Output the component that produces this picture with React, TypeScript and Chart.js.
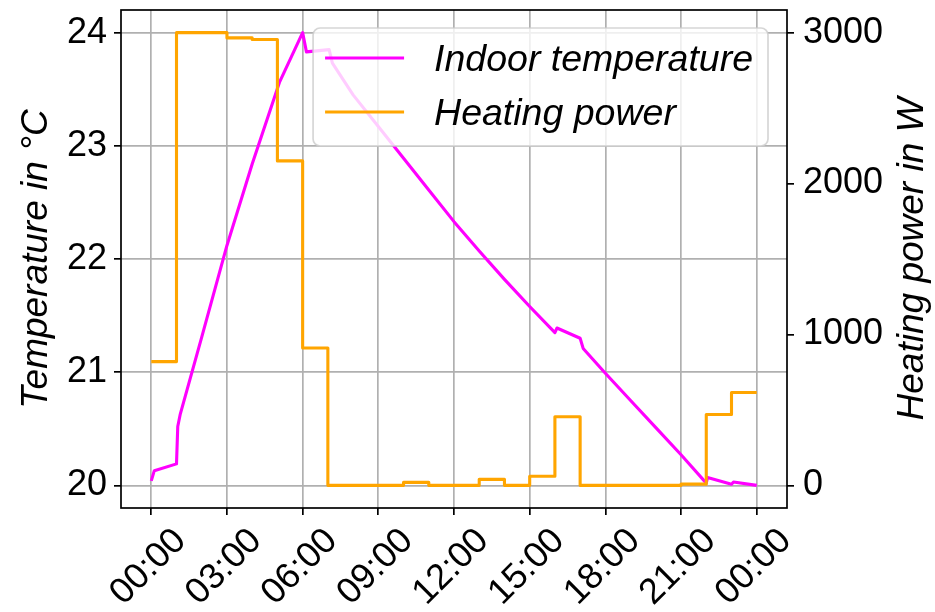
import React, { useEffect, useRef } from 'react';
import { Chart, registerables } from 'chart.js';

Chart.register(...registerables);

// ---- data ----
const tempHours = [
  0.0, 0.12, 1.0, 1.05, 1.15, 2.0, 3.0, 4.0, 5.08, 6.0, 6.15, 7.05, 7.18,
  8, 9, 10, 11, 12, 13, 14, 15, 16.0, 16.08, 17.0, 17.12, 18, 19, 20, 21,
  22.0, 22.05, 23.0, 23.08, 24.0,
];
const tempValues = [
  20.04, 20.13, 20.19, 20.52, 20.63, 21.31, 22.12, 22.84, 23.56, 24.0, 23.83, 23.85, 23.73,
  23.45, 23.17, 22.89, 22.61, 22.33, 22.07, 21.82, 21.58, 21.35, 21.39, 21.3, 21.21, 20.99, 20.75, 20.51, 20.27,
  20.02, 20.07, 20.01, 20.03, 20.0,
];
const powerHours = [0, 1, 2, 3, 4, 5, 6, 7, 8, 9, 10, 11, 12, 13, 14, 15, 16, 17, 18, 19, 20, 21, 22, 23, 24];
const powerValues = [
  820, 3000, 3000, 2965, 2955, 2150, 910, 0, 0, 0, 20, 0, 0, 40, 0, 60, 455, 0, 0, 0, 0, 8, 470, 615, 615,
];
const xTickHours = [0, 3, 6, 9, 12, 15, 18, 21, 24];
const xTickLabels = ['00:00', '03:00', '06:00', '09:00', '12:00', '15:00', '18:00', '21:00', '00:00'];
const tempTicks = [20, 21, 22, 23, 24];
const powerTicks = [0, 1000, 2000, 3000];
const seriesNames = ['Indoor temperature', 'Heating power'];
const seriesColors = ['#ff00ff', '#ffa500'];
const axisTitles = ['Temperature in °C', 'Heating power in W'];

const FONT = '"Liberation Sans", Arial, Helvetica, sans-serif';
const TICK_SIZE = 36;
const TITLE_SIZE = 37;
const LEGEND_SIZE = 37.5;
const GRID = '#b0b0b0';

const zeroPad = (s: any) => {
  s.paddingTop = 0;
  s.paddingBottom = 0;
  s.paddingLeft = 0;
  s.paddingRight = 0;
};

const decorPlugin = {
  id: 'decor',
  afterDatasetsDraw(chart: any) {
    const { ctx, chartArea: ca } = chart;
    ctx.save();
    // frame (spines)
    ctx.strokeStyle = '#000';
    ctx.lineWidth = 1.7;
    ctx.strokeRect(ca.left, ca.top, ca.right - ca.left, ca.bottom - ca.top);

    // legend
    const fs = LEGEND_SIZE;
    ctx.font = `italic ${fs}px ${FONT}`;
    const tw = Math.max(...seriesNames.map((n) => ctx.measureText(n).width));
    const padL = 12, handle = 79, gap = 30, padR = 15;
    const w = padL + handle + gap + tw + padR;
    const h = 118;
    const x0 = ca.right - 19 - w;
    const y0 = ca.top + 18;
    const r = 7;
    ctx.beginPath();
    ctx.moveTo(x0 + r, y0);
    ctx.lineTo(x0 + w - r, y0);
    ctx.arcTo(x0 + w, y0, x0 + w, y0 + r, r);
    ctx.lineTo(x0 + w, y0 + h - r);
    ctx.arcTo(x0 + w, y0 + h, x0 + w - r, y0 + h, r);
    ctx.lineTo(x0 + r, y0 + h);
    ctx.arcTo(x0, y0 + h, x0, y0 + h - r, r);
    ctx.lineTo(x0, y0 + r);
    ctx.arcTo(x0, y0, x0 + r, y0, r);
    ctx.closePath();
    ctx.fillStyle = 'rgba(255,255,255,0.8)';
    ctx.fill();
    ctx.strokeStyle = 'rgba(204,204,204,0.8)';
    ctx.lineWidth = 1.7;
    ctx.stroke();

    seriesNames.forEach((name, i) => {
      const cy = y0 + 30 + i * 54;
      ctx.strokeStyle = seriesColors[i];
      ctx.lineWidth = 3.1;
      ctx.lineCap = 'butt';
      ctx.beginPath();
      ctx.moveTo(x0 + padL, cy);
      ctx.lineTo(x0 + padL + handle, cy);
      ctx.stroke();
      ctx.fillStyle = '#000';
      ctx.textAlign = 'left';
      ctx.textBaseline = 'alphabetic';
      ctx.fillText(name, x0 + padL + handle + gap, cy + 0.358 * fs);
    });
    ctx.restore();
  },
  afterDraw(chart: any) {
    const { ctx, chartArea: ca } = chart;
    const cy = (ca.top + ca.bottom) / 2;
    ctx.save();
    ctx.font = `italic ${TITLE_SIZE}px ${FONT}`;
    ctx.fillStyle = '#000';
    ctx.textAlign = 'center';
    ctx.textBaseline = 'alphabetic';
    const xs = [47, 923];
    axisTitles.forEach((t, i) => {
      ctx.save();
      ctx.translate(xs[i], cy);
      ctx.rotate(-Math.PI / 2);
      ctx.fillText(t, 0, 0);
      ctx.restore();
    });
    ctx.restore();
  },
};

export default function App() {
  const ref = useRef<HTMLCanvasElement | null>(null);

  useEffect(() => {
    const canvas = ref.current;
    if (!canvas) return;
    Chart.defaults.font.family = FONT;
    const gridCommon = {
      color: GRID,
      lineWidth: 1.7,
      tickColor: '#000',
      tickLength: 7,
      tickWidth: 1.7,
    };
    const chart = new Chart(canvas, {
      type: 'line',
      data: {
        datasets: [
          {
            label: seriesNames[0],
            data: tempHours.map((hh, i) => ({ x: hh, y: tempValues[i] })),
            yAxisID: 'yT',
            borderColor: seriesColors[0],
            backgroundColor: seriesColors[0],
            borderWidth: 3.1,
            pointRadius: 0,
            tension: 0,
            borderJoinStyle: 'round',
            order: 1,
          },
          {
            label: seriesNames[1],
            data: powerHours.map((hh, i) => ({ x: hh, y: powerValues[i] })),
            yAxisID: 'yP',
            borderColor: seriesColors[1],
            backgroundColor: seriesColors[1],
            borderWidth: 3.1,
            pointRadius: 0,
            stepped: 'before',
            borderJoinStyle: 'round',
            order: 0,
          },
        ],
      },
      options: {
        responsive: false,
        animation: false,
        devicePixelRatio: 1,
        layout: { padding: { top: 10, left: 0, right: 0, bottom: 0 } },
        plugins: {
          legend: { display: false },
          tooltip: { enabled: false },
        },
        scales: {
          x: {
            type: 'linear',
            min: -1.2,
            max: 25.2,
            afterBuildTicks: (s: any) => {
              s.ticks = xTickHours.map((v) => ({ value: v }));
            },
            afterFit: (s: any) => {
              s.height = 104;
              zeroPad(s);
            },
            border: { display: false },
            grid: gridCommon,
            ticks: {
              autoSkip: false,
              minRotation: 45,
              maxRotation: 45,
              color: '#000',
              padding: 5,
              labelOffset: 29,
              font: { size: TICK_SIZE, family: FONT },
              callback: (_v: any, i: number) => xTickLabels[i],
            },
          },
          yT: {
            type: 'linear',
            position: 'left',
            min: 19.8,
            max: 24.2,
            afterBuildTicks: (s: any) => {
              s.ticks = tempTicks.map((v) => ({ value: v }));
            },
            afterFit: (s: any) => {
              s.width = 121;
              zeroPad(s);
            },
            border: { display: false },
            grid: gridCommon,
            ticks: {
              color: '#000',
              padding: 7,
              font: { size: TICK_SIZE, family: FONT },
              callback: (v: any) => String(v),
            },
          },
          yP: {
            type: 'linear',
            position: 'right',
            min: -150,
            max: 3150,
            afterBuildTicks: (s: any) => {
              s.ticks = powerTicks.map((v) => ({ value: v }));
            },
            afterFit: (s: any) => {
              s.width = 148;
              zeroPad(s);
            },
            border: { display: false },
            grid: { ...gridCommon, drawOnChartArea: false },
            ticks: {
              color: '#000',
              padding: 9,
              font: { size: TICK_SIZE, family: FONT },
              callback: (v: any) => String(v),
            },
          },
        },
      } as any,
      plugins: [decorPlugin],
    });
    return () => chart.destroy();
  }, []);

  return (
    <div style={{ position: 'absolute', left: 0, top: 0, width: 935, height: 612, background: '#fff' }}>
      <canvas ref={ref} width={935} height={612} style={{ display: 'block', width: 935, height: 612 }} />
    </div>
  );
}
